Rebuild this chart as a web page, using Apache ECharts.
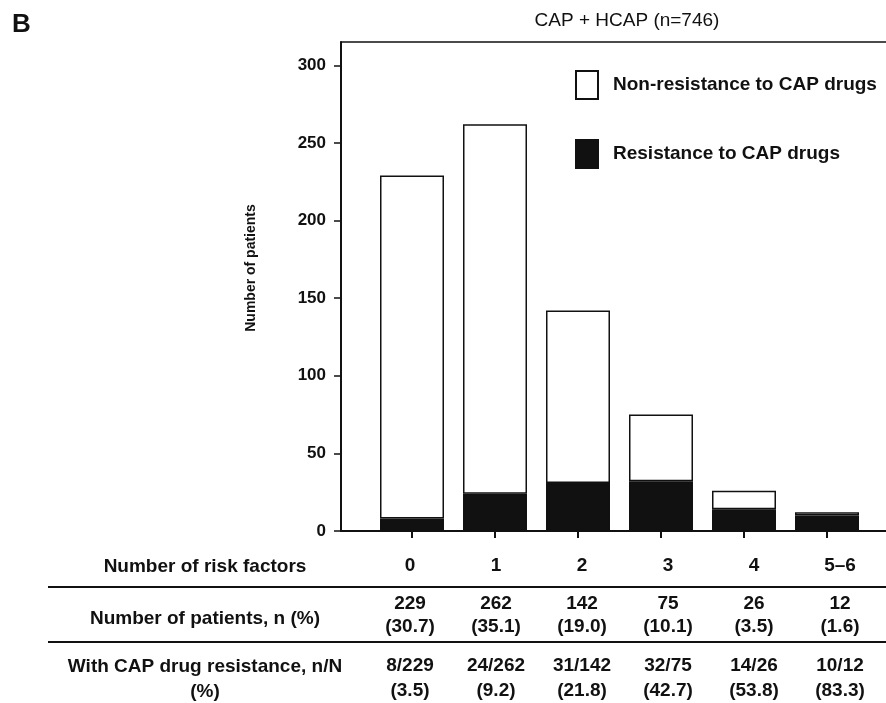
<!DOCTYPE html>
<html>
<head>
<meta charset="utf-8">
<script src="https://cdn.jsdelivr.net/npm/echarts@6/dist/echarts.min.js"></script>
<style>
  html, body { margin: 0; padding: 0; background: #fff; }
  #chart { width: 886px; height: 703px; }
</style>
</head>
<body>
<div id="chart"></div>
<script>
// values
const riskFactors = ['0', '1', '2', '3', '4', '5–6'];
const totalPatients = [229, 262, 142, 75, 26, 12];
const totalPct = ['30.7', '35.1', '19.0', '10.1', '3.5', '1.6'];
const resistant = [8, 24, 31, 32, 14, 10];
const nonResistant = [221, 238, 111, 43, 12, 2];
const resistantPct = ['3.5', '9.2', '21.8', '42.7', '53.8', '83.3'];
const yTicks = [0, 50, 100, 150, 200, 250, 300];

const patientLabels = totalPatients.map((n, i) => n + '\n(' + totalPct[i] + ')');
const resistLabels = resistant.map((r, i) => r + '/' + totalPatients[i] + '\n(' + resistantPct[i] + ')');

const INK = '#111';
const FONT = 'Liberation Sans, Arial, sans-serif';

const chart = echarts.init(document.getElementById('chart'));

const hiddenY = (grid) => ({
    type: 'value', gridIndex: grid, min: 0, max: 315,
    axisLine: { show: false }, axisTick: { show: false },
    axisLabel: { show: false }, splitLine: { show: false }
});
const tableRow = (data, margin, lh) => ({
    type: 'category', gridIndex: 2, position: 'bottom', data: data,
    axisLine: { show: false }, axisTick: { show: false }, splitLine: { show: false },
    axisLabel: {
        interval: 0, margin: margin, color: INK, fontFamily: FONT,
        fontSize: 19, fontWeight: 'bold', lineHeight: lh
    }
});

chart.setOption({
    animation: false,
    title: {
        text: 'CAP + HCAP (n=746)',
        left: 627, top: 11, textAlign: 'center', padding: 0,
        textStyle: { fontFamily: FONT, fontSize: 19, fontWeight: 'normal', color: INK }
    },
    legend: {
        orient: 'vertical', left: 575, top: 70, padding: 0,
        icon: 'rect', itemWidth: 22, itemHeight: 28, itemGap: 39,
        data: ['Non-resistance to CAP drugs', 'Resistance to CAP drugs'],
        textStyle: { fontFamily: FONT, fontSize: 19, fontWeight: 'bold', color: INK, padding: [0, 0, 0, 10] }
    },
    grid: [
        { left: 341, right: 0, top: 42, bottom: 172 },      // frame + y axis
        { left: 370.5, width: 498, top: 42, bottom: 172 },  // bars
        { left: 367, width: 516, top: 42, bottom: 172 }     // table columns
    ],
    xAxis: [
        {
            type: 'value', gridIndex: 0, min: 0, max: 1, position: 'bottom',
            axisLine: { show: true, lineStyle: { color: INK, width: 2 } },
            axisTick: { show: false }, axisLabel: { show: false }, splitLine: { show: false }
        },
        {
            type: 'value', gridIndex: 0, min: 0, max: 1, position: 'top',
            axisLine: { show: true, lineStyle: { color: INK, width: 1.5 } },
            axisTick: { show: false }, axisLabel: { show: false }, splitLine: { show: false }
        },
        {
            type: 'category', gridIndex: 1, data: riskFactors,
            axisLine: { show: false },
            axisTick: { show: true, alignWithLabel: true, length: 7, lineStyle: { color: INK, width: 2 } },
            axisLabel: { show: false }, splitLine: { show: false }
        },
        tableRow(riskFactors, 26, 20),
        tableRow(patientLabels, 62, 23),
        tableRow(resistLabels, 123, 25)
    ],
    yAxis: [
        {
            type: 'value', gridIndex: 0, min: 0, max: 315,
            name: 'Number of patients', nameLocation: 'middle', nameGap: 83,
            nameTextStyle: {
                fontFamily: FONT, fontSize: 14, fontWeight: 'bold', color: INK,
                padding: [0, 0, 0, 37]
            },
            axisLine: { show: true, lineStyle: { color: INK, width: 2 } },
            axisTick: { show: true, length: 7, customValues: yTicks, lineStyle: { color: INK, width: 1.5 } },
            axisLabel: {
                customValues: yTicks, margin: 15, color: INK,
                fontFamily: FONT, fontSize: 17, fontWeight: 'bold'
            },
            splitLine: { show: false }
        },
        hiddenY(1),
        hiddenY(2)
    ],
    series: [
        {
            name: 'Resistance to CAP drugs', type: 'bar', stack: 'pts',
            xAxisIndex: 2, yAxisIndex: 1, barWidth: 64,
            data: resistant,
            itemStyle: { color: INK, borderColor: INK, borderWidth: 1.5 }
        },
        {
            name: 'Non-resistance to CAP drugs', type: 'bar', stack: 'pts',
            xAxisIndex: 2, yAxisIndex: 1, barWidth: 64,
            data: nonResistant,
            itemStyle: { color: '#fff', borderColor: INK, borderWidth: 1.5 }
        }
    ],
    graphic: [
        {
            type: 'text', left: 12, top: 12,
            style: { text: 'B', fontFamily: FONT, fontSize: 26, fontWeight: 'bold', fill: INK }
        },
        {
            type: 'text', x: 205, y: 567,
            style: { text: 'Number of risk factors', align: 'center', verticalAlign: 'middle',
                     fontFamily: FONT, fontSize: 19, fontWeight: 'bold', fill: INK }
        },
        {
            type: 'text', x: 205, y: 619,
            style: { text: 'Number of patients, n (%)', align: 'center', verticalAlign: 'middle',
                     fontFamily: FONT, fontSize: 19, fontWeight: 'bold', fill: INK }
        },
        {
            type: 'text', x: 205, y: 679.5,
            style: { text: 'With CAP drug resistance, n/N\n(%)', align: 'center', verticalAlign: 'middle',
                     lineHeight: 25, fontFamily: FONT, fontSize: 19, fontWeight: 'bold', fill: INK }
        },
        {
            type: 'line', shape: { x1: 48, y1: 587, x2: 886, y2: 587 },
            style: { stroke: INK, lineWidth: 2 }
        },
        {
            type: 'line', shape: { x1: 48, y1: 642, x2: 886, y2: 642 },
            style: { stroke: INK, lineWidth: 2 }
        }
    ]
});
</script>
</body>
</html>
